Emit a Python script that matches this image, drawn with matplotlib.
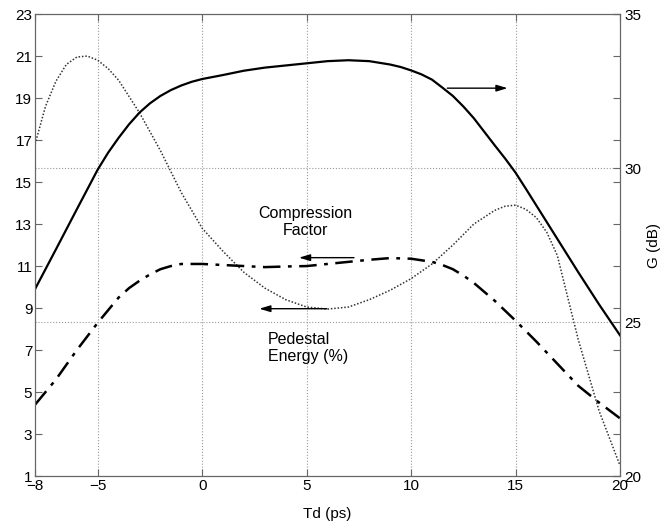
import numpy as np
import matplotlib
matplotlib.use('Agg')
import matplotlib.pyplot as plt

plt.rcParams['font.family'] = ['Liberation Sans', 'DejaVu Sans']
plt.rcParams['font.size'] = 11

# compression factor (left axis, dotted)
td_cf = [-8, -7.5, -7, -6.5, -6, -5.5, -5, -4.5, -4, -3, -2, -1, 0, 1, 2, 3, 4, 5, 6, 7,
         8, 9, 10, 11, 12, 13, 14, 14.5, 15, 15.5, 16, 16.5, 17, 17.5, 18, 19, 20]
comp_factor = [16.8, 18.6, 19.8, 20.6, 20.95, 21.0, 20.8, 20.4, 19.85, 18.3, 16.5, 14.5, 12.8,
               11.7, 10.7, 9.95, 9.4, 9.05, 8.95, 9.05, 9.4, 9.85, 10.4, 11.1, 12.0, 13.0,
               13.65, 13.85, 13.9, 13.7, 13.3, 12.6, 11.5, 9.5, 7.5, 4.1, 1.5]

# pedestal energy % (left axis, dash-dot)
td_pe = [-8, -7, -6, -5, -4, -3.5, -3, -2.5, -2, -1.5, -1, 0, 1, 2, 3, 4, 5, 6, 7, 8, 9, 10,
         11, 11.5, 12, 12.5, 13, 14, 15, 16, 17, 18, 19, 20]
pedestal = [4.4, 5.6, 7.0, 8.3, 9.5, 9.95, 10.3, 10.6, 10.85, 11.0, 11.1, 11.1, 11.05, 11.0,
            10.95, 10.98, 11.0, 11.1, 11.2, 11.3, 11.38, 11.35, 11.2, 11.05, 10.85, 10.55,
            10.2, 9.35, 8.4, 7.4, 6.35, 5.3, 4.5, 3.75]

# gain in dB (right axis, solid)
td_g = [-8, -7, -6, -5, -4.5, -4, -3.5, -3, -2.5, -2, -1.5, -1, -0.5, 0, 1, 2, 3, 4, 5, 6,
        7, 8, 9, 9.5, 10, 10.5, 11, 11.5, 12, 12.5, 13, 13.5, 14, 14.5, 15, 15.5, 16, 17,
        18, 19, 20]
gain_db = [26.07, 27.36, 28.66, 29.95, 30.50, 30.98, 31.42, 31.80, 32.10, 32.34, 32.53,
           32.68, 32.80, 32.89, 33.02, 33.16, 33.26, 33.33, 33.40, 33.47, 33.50, 33.47,
           33.36, 33.28, 33.17, 33.04, 32.87, 32.61, 32.34, 32.00, 31.62, 31.18, 30.74,
           30.31, 29.85, 29.32, 28.78, 27.70, 26.62, 25.57, 24.57]

x_ticks = [-8, -5, 0, 5, 10, 15, 20]
left_ticks = list(range(1, 24, 2))
right_ticks = [20, 25, 30, 35]

fig = plt.figure(figsize=(6.61, 5.29), dpi=100)
ax = fig.add_axes([0.053, 0.100, 0.885, 0.8735])
ax2 = ax.twinx()

spine_c = '#666666'
ax.plot(td_cf, comp_factor, color='#333333', lw=1.1, linestyle=(0, (1, 1.2)))
ax.plot(td_pe, pedestal, color='black', lw=1.8, linestyle=(0, (7, 3, 1.5, 3)))
ax2.plot(td_g, gain_db, color='black', lw=1.6)

ax.set_xlim(-8, 20)
ax.set_ylim(1, 23)
ax2.set_ylim(20, 35)
ax.set_xticks(x_ticks)
ax.set_yticks(left_ticks)
ax2.set_yticks(right_ticks)

ax.xaxis.grid(True, linestyle=':', color='#999999', lw=0.8)
ax2.yaxis.grid(True, linestyle=':', color='#999999', lw=0.8)
ax.set_axisbelow(True)

for a in (ax, ax2):
    for s in a.spines.values():
        s.set_color(spine_c)
ax.tick_params(direction='in', length=5, color=spine_c, top=True, right=True,
               labelright=False, pad=2)
ax2.tick_params(direction='in', length=5, color=spine_c, pad=3)

ax.set_xlabel('Td (ps)', labelpad=10)
ax2.set_ylabel('G (dB)', labelpad=4)

ax.text(4.95, 13.1, 'Compression\nFactor', ha='center', va='center', linespacing=1.1,
        fontsize=11.5)
ax.text(3.15, 7.1, 'Pedestal\nEnergy (%)', ha='left', va='center', linespacing=1.1,
        fontsize=11.5)

arr = dict(arrowstyle='-|>,head_length=0.6,head_width=0.18', color='black', lw=1)
ax.annotate('', xy=(14.75, 19.47), xytext=(11.6, 19.47), arrowprops=arr)
ax.annotate('', xy=(4.5, 11.4), xytext=(7.4, 11.4), arrowprops=arr)
ax.annotate('', xy=(2.6, 8.97), xytext=(6.1, 8.97), arrowprops=arr)

fig.savefig('out.png', dpi=100)
